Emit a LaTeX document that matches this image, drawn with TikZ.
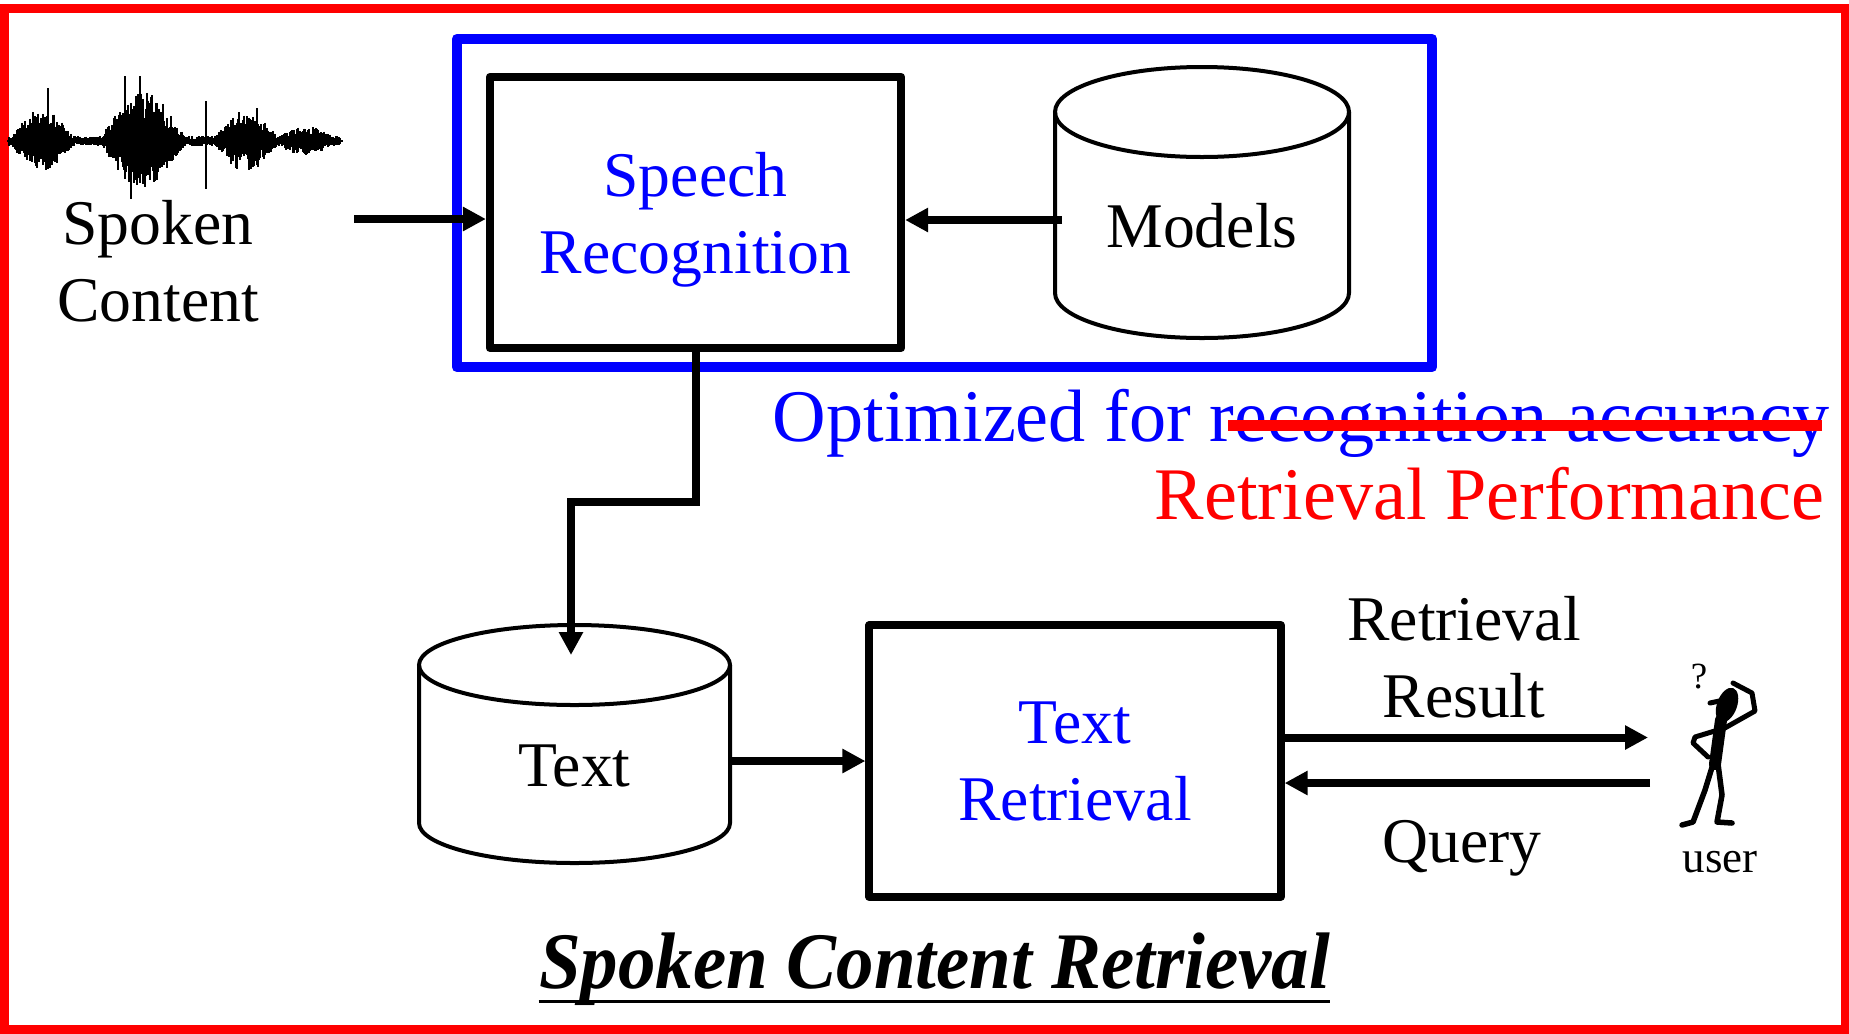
\documentclass[tikz,border=0pt]{standalone}
\usepackage{fontspec}
\setmainfont{Liberation Serif}
\usepackage{graphicx}
\usetikzlibrary{arrows.meta}

\tikzset{
  block/.style={draw, line width=0.08cm, line join=round, minimum width=4.11cm, minimum height=2.71cm,
    align=center, text=blue, text depth=0pt, font=\fontsize{18.1}{21.9}\selectfont},
  lbl/.style={align=center, inner sep=0pt, font=\fontsize{18.1}{21.9}\selectfont},
  arr/.style={line width=0.08cm, -{Triangle[length=0.23cm,width=0.23cm]}},
  limb/.style={line width=0.05cm, line cap=round, line join=round},
}

% drum outline: centre x, centre y, half width, half height, cap radius
\newcommand{\dbdrum}[5]{%
  \draw[line width=0.04cm] (#1-#3,#2-#4+#5) -- (#1-#3,#2+#4-#5) arc (180:0:#3 and #5) -- (#1+#3,#2-#4+#5);
  \draw[line width=0.04cm] (#1,#2-#4+#5) ellipse (#3 and #5);
}

\begin{document}
\begin{tikzpicture}[x=0.01cm, y=-0.01cm]
  \useasboundingbox (0,0) rectangle (1849,1033);
  \draw[red, line width=0.09cm] (4,8) rectangle (1845,1029);

  % Waveform:
  \draw[line width=0.02cm] (7,141) -- (343,141);
  \pgfmathsetseed{11}
  \foreach \x in {9,10,...,340} {
    \pgfmathsetmacro\env{5 + 26*min(1,1.5*max(0,1-abs(\x-42)/31)) + 44*min(1,1.4*max(0,1-abs(\x-143)/42))
      + 24*min(1,1.4*max(0,1-abs(\x-246)/32)) + 9*min(1,1.5*max(0,1-abs(\x-306)/28))}
    \pgfmathsetmacro\up{\env*(0.4+0.6*rnd)}
    \pgfmathsetmacro\dn{\env*(0.4+0.6*rnd)}
    \draw[line width=0.016cm] (\x,141-\up) -- (\x,141+\dn);
  }
  \foreach \x/\u/\d in {48/53/22, 125/65/32, 131/38/58, 140/65/42, 206/40/48, 257/33/24}
    \draw[line width=0.016cm] (\x,141-\u) -- (\x,141+\d);

  % Recognition part:
  \node[draw=blue, line width=0.1cm, line join=round, minimum width=9.75cm, minimum height=3.28cm] (asr) at (944.5,203) {};
  \node[block] (sr) at (695.5,212.5) {Speech\\Recognition};
  \dbdrum{1202}{202.5}{147}{135.5}{45}
  \node[lbl, minimum width=2.94cm] (models) at (1202,226) {Models};
  \node[lbl] (spoken) at (158,261) {Spoken\\Content};

  \coordinate (wavein) at (354,219);
  \coordinate (mdlout) at (1062,220);
  \draw[arr] (wavein) -- (wavein -| sr.west);
  \draw[arr] (mdlout) -- (mdlout -| sr.east);

  \node[anchor=base west, inner sep=0pt, text=blue, font=\fontsize{21.1}{24}\selectfont] (optim) at (772,441) {Optimized for recognition accuracy};
  \draw[red, line width=0.11cm] (1228,425) -- (1822,425);
  \node[anchor=base east, inner sep=0pt, text=red, font=\fontsize{21.1}{24}\selectfont] (perf) at (1825,519) {Retrieval Performance};

  % Retrieval part:
  \dbdrum{574.5}{744}{155.5}{119}{40}
  \node[lbl, minimum width=3.11cm] (textdb) at (574.5,766) {Text};
  \node[block] (tr) at (1075,761) {Text\\Retrieval};

  \coordinate (elbow) at (571,502);
  \coordinate (dbin) at (571,655);
  \draw[arr, line join=miter] (sr.south) |- (elbow) -- (dbin);
  \draw[arr] (textdb.east |- tr.west) -- (tr.west);

  \coordinate (resout) at (1648,737.5);
  \coordinate (qryin) at (1650,783);
  \draw[arr] (tr.east |- resout) -- (resout);
  \draw[arr] (qryin) -- (qryin -| tr.east);
  \node[lbl] (result) at (1464,657) {Retrieval\\Result};
  \node[lbl, anchor=base] (query) at (1462,862) {Query};

  % User:
  \fill[rotate around={-20:(1727,705)}] (1727,705) ellipse (10 and 18);
  \draw[line width=0.05cm, line cap=round] (1710,703) -- (1724,700);
  \draw[line width=0.12cm, line cap=round] (1721,720) -- (1715,764);
  \draw[limb] (1718,730) -- (1695,737) -- (1693,743) -- (1708,757);
  \draw[limb] (1723,729) -- (1755,711) -- (1752,693) -- (1733,683);
  \draw[limb, line width=0.055cm] (1713,764) -- (1705,790) -- (1693,822) -- (1682,825);
  \draw[limb, line width=0.055cm] (1718,764) -- (1722,795) -- (1717,822) -- (1732,823);
  \node[font=\fontsize{10.5}{12}\selectfont] (qmark) at (1699,677) {?};
  \node[anchor=base, inner sep=0pt, font=\fontsize{12.8}{14}\selectfont] (user) at (1720,872) {user};

  % Title:
  \node[anchor=base, inner sep=0pt, font=\fontsize{22.8}{26}\selectfont\bfseries\itshape] (title) at (934.5,988)
    {\scalebox{0.934}[1]{Spoken Content Retrieval}};
  \draw[line width=0.03cm] ([yshift=-0.13cm]title.base west) -- ([yshift=-0.13cm]title.base east);
\end{tikzpicture}
\end{document}
